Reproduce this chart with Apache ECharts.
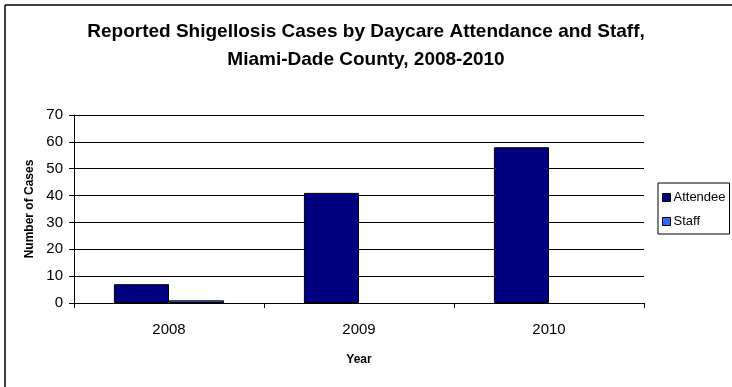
<!DOCTYPE html>
<html>
<head>
<meta charset="utf-8">
<script src="https://cdn.jsdelivr.net/npm/echarts@6/dist/echarts.min.js"></script>
<style>html,body{margin:0;padding:0;background:#fff}#c{width:732px;height:387px}</style>
</head>
<body>
<div id="c"></div>
<script>
const categories = ['2008', '2009', '2010'];
const attendee = [7, 41, 58];
const staff = [1, 0, 0];
const seriesNames = ['Attendee', 'Staff'];
const titleText = 'Reported Shigellosis Cases by Daycare Attendance and Staff,\nMiami-Dade County, 2008-2010';

const chart = echarts.init(document.getElementById('c'));
const font = 'Liberation Sans, Arial, sans-serif';
const staffData = staff.map(v => v === 0 ? { value: v, itemStyle: { borderWidth: 0 } } : v);
chart.setOption({
  backgroundColor: '#fff',
  animation: false,
  title: {
    text: titleText,
    left: 'center',
    top: 13,
    textStyle: { fontFamily: font, fontSize: 19, fontWeight: 'bold', color: '#000', lineHeight: 28, align: 'center' }
  },
  legend: {
    orient: 'vertical',
    left: 658,
    top: 183,
    padding: [8, 4, 6, 4],
    itemGap: 11,
    itemWidth: 8,
    itemHeight: 8,
    borderColor: '#000',
    borderWidth: 1,
    borderRadius: 0,
    icon: 'rect',
    itemStyle: { borderColor: '#000', borderWidth: 1 },
    textStyle: { fontFamily: font, fontSize: 13, color: '#000', padding: [0, 0, 0, -2] },
    data: seriesNames
  },
  grid: { left: 74, right: 88, top: 115, bottom: 84, containLabel: false },
  xAxis: {
    type: 'category',
    data: categories,
    name: 'Year',
    nameLocation: 'middle',
    nameGap: 51,
    nameTextStyle: { fontFamily: font, fontSize: 12, fontWeight: 'bold', color: '#000' },
    axisLine: { lineStyle: { color: '#000', width: 1 } },
    axisTick: { show: true, length: 5, lineStyle: { color: '#000' } },
    axisLabel: { fontFamily: font, fontSize: 15, color: '#000', margin: 19 }
  },
  yAxis: {
    type: 'value',
    min: 0,
    max: 70,
    interval: 10,
    name: 'Number of Cases',
    nameLocation: 'middle',
    nameGap: 35,
    nameTextStyle: { fontFamily: font, fontSize: 12, fontWeight: 'bold', color: '#000' },
    axisLine: { show: true, lineStyle: { color: '#000', width: 1 } },
    axisTick: { show: true, length: 5, lineStyle: { color: '#000' } },
    axisLabel: { fontFamily: font, fontSize: 15, color: '#000', margin: 11 },
    splitLine: { show: true, lineStyle: { color: '#000', width: 1 } }
  },
  series: [
    {
      name: seriesNames[0], type: 'bar', data: attendee,
      barGap: '0%', barCategoryGap: '42%',
      itemStyle: { color: '#000080', borderColor: '#000', borderWidth: 1 }
    },
    {
      name: seriesNames[1], type: 'bar', data: staffData,
      itemStyle: { color: '#3366FF', borderColor: '#000', borderWidth: 1 }
    }
  ],
  graphic: [
    { type: 'line', shape: { x1: 5, y1: 5, x2: 732, y2: 5 }, style: { stroke: '#000', lineWidth: 1.5 } },
    { type: 'line', shape: { x1: 5, y1: 5, x2: 5, y2: 387 }, style: { stroke: '#000', lineWidth: 1.5 } }
  ]
});
</script>
</body>
</html>
